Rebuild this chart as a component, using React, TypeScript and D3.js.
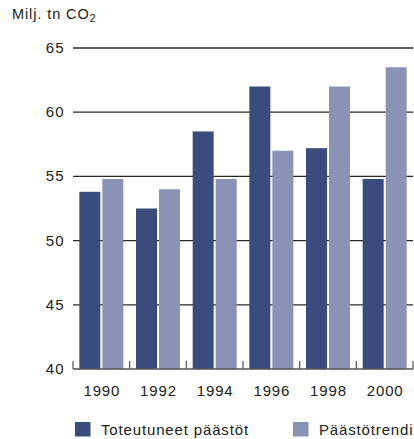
import React from "react";
import * as d3 from "d3";

const years = ["1990", "1992", "1994", "1996", "1998", "2000"];
const actual = [53.8, 52.5, 58.5, 62.0, 57.2, 54.8];
const trend = [54.8, 54.0, 54.8, 57.0, 62.0, 63.5];
const yTicks = [40, 45, 50, 55, 60, 65];
const seriesNames = ["Toteutuneet päästöt", "Päästötrendi"];
const colors = ["#3a4b7e", "#8a92b6"];

const W = 414;
const H = 439;
const left = 73;
const right = 413;
const top = 48;
const bottom = 369;
const font = "'Liberation Sans', Arial, Helvetica, sans-serif";
const ls = 0.85;

export default function App() {
  const x = d3.scaleBand<string>().domain(years).range([left, right]).padding(0);
  const y = d3.scaleLinear().domain([40, 65]).range([bottom, top]);
  const bw = x.bandwidth();
  const barW = 21;
  const gap = 2;
  const off = (bw - (2 * barW + gap)) / 2;
  const boundaries = [...years.map((d) => x(d) as number), right];

  return (
    <svg width={W} height={H} style={{ position: "absolute", left: 0, top: 0 }}>
      <rect width={W} height={H} fill="#fff" />
      <text x={12} y={18.5} fontFamily={font} fontSize={14.5} letterSpacing={0.9} fill="#222">
        Milj. tn CO<tspan fontSize={11} dy={3}>2</tspan>
      </text>
      {yTicks.filter((t) => t > 40).map((t) => (
        <line key={t} x1={left} x2={right} y1={y(t)} y2={y(t)} stroke="#2a2a2a" strokeWidth={1.3} />
      ))}
      {yTicks.map((t) => (
        <text key={"l" + t} x={64.5} y={y(t) + 5} textAnchor="end" fontFamily={font} fontSize={15} letterSpacing={1} fill="#222">
          {t}
        </text>
      ))}
      {years.map((yr, i) => (
        <g key={yr}>
          <rect x={(x(yr) as number) + off} y={y(actual[i])} width={barW} height={bottom - y(actual[i])} fill={colors[0]} />
          <rect x={(x(yr) as number) + off + barW + gap} y={y(trend[i])} width={barW} height={bottom - y(trend[i])} fill={colors[1]} />
          <text x={(x(yr) as number) + bw / 2 + 0.5} y={396} textAnchor="middle" fontFamily={font} fontSize={15} letterSpacing={ls} fill="#222">
            {yr}
          </text>
        </g>
      ))}
      <line x1={left} x2={right} y1={bottom} y2={bottom} stroke="#555" strokeWidth={1.4} />
      {boundaries.map((b, i) => (
        <line key={"t" + i} x1={b} x2={b} y1={bottom} y2={bottom - 8} stroke="#555" strokeWidth={1.2} />
      ))}
      <rect x={75} y={422} width={15.5} height={14.5} fill={colors[0]} />
      <text x={101} y={435} fontFamily={font} fontSize={15} letterSpacing={ls} fill="#222">{seriesNames[0]}</text>
      <rect x={293} y={422} width={15.5} height={14.5} fill={colors[1]} />
      <text x={319} y={435} fontFamily={font} fontSize={15} letterSpacing={ls} fill="#222">{seriesNames[1]}</text>
    </svg>
  );
}
